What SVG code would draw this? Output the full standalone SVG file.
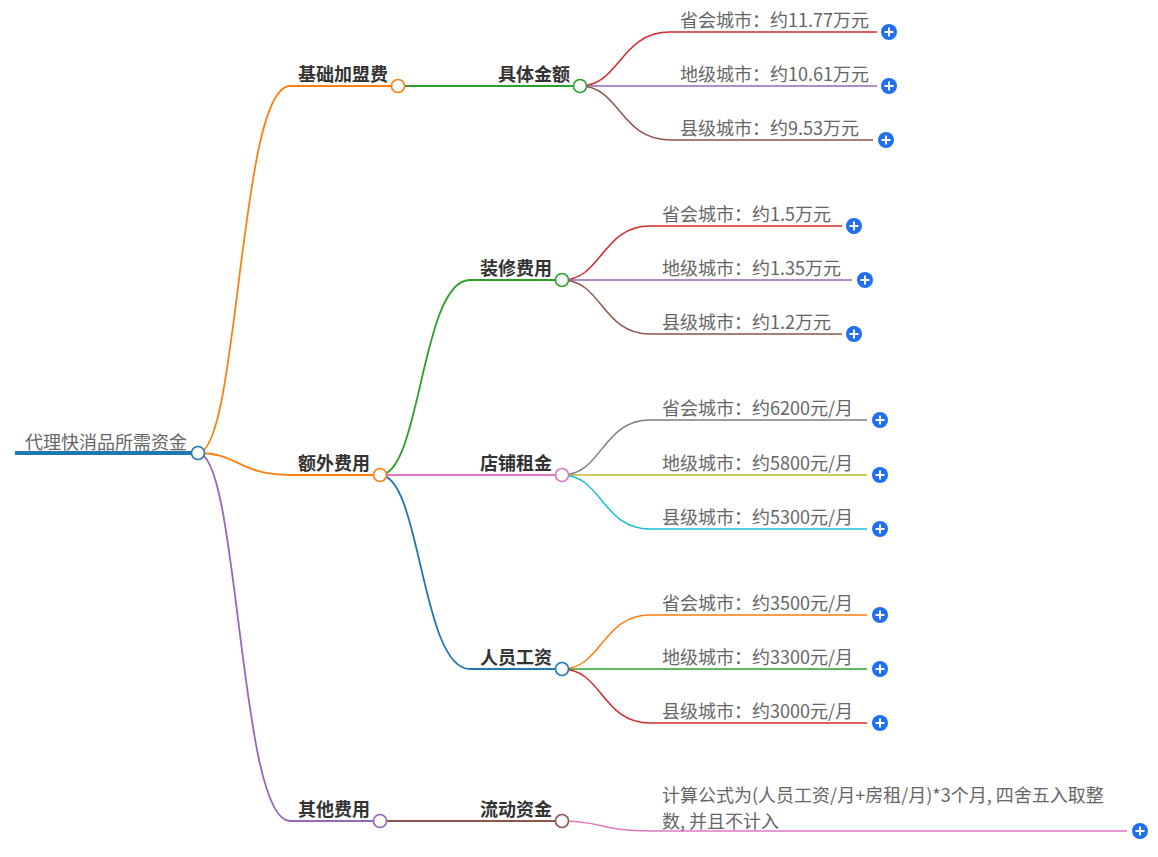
<svg xmlns="http://www.w3.org/2000/svg" width="1158" height="857" viewBox="0 0 1158 857">
<defs>
<style>
.e{fill:none;stroke-width:1.8;stroke-linecap:round}
.l{fill:none;stroke-width:1.5}
.t1{font-family:"Noto Sans CJK SC","Liberation Sans",sans-serif;font-size:18px;font-weight:bold;fill:#333;text-anchor:end}
.t3{font-family:"Noto Sans CJK SC","Liberation Sans",sans-serif;font-size:18px;fill:#666}
.root{font-family:"Noto Sans CJK SC","Liberation Sans",sans-serif;font-size:18px;fill:#666;text-anchor:end}
.c{fill:#fff;stroke-width:1.6}
.pb{fill:#1f6ff0}
.pl{stroke:#fff;stroke-width:2;fill:none}
</style>
<g id="plus"><circle class="pb" r="8"/><path class="pl" d="M-4.5 0H4.5M0 -4.5V4.5"/></g>
</defs>
<rect width="1158" height="857" fill="#fff"/>
<g id="connectors">
<path d="M15 453H198" stroke="#1f77b4" stroke-width="4" fill="none"/>
<path class="e" stroke="#ff7f0e" d="M198 453C239 453 239 86 290 86L398 86"/>
<path class="e" stroke="#ff7f0e" d="M198 453C239 453 239 475 290 475L380 475"/>
<path class="e" stroke="#9467bd" d="M198 453C239 453 239 821 290 821L380 821"/>
<path class="e" stroke="#2ca02c" d="M398 86L580 86"/>
<path class="e" stroke="#2ca02c" d="M380 475C421 475 421 280 470 280L562 280"/>
<path class="e" stroke="#e377c2" d="M380 475L562 475"/>
<path class="e" stroke="#1f77b4" d="M380 475C421 475 421 669 470 669L562 669"/>
<path class="e" stroke="#8c564b" d="M380 821L562 821"/>
<path class="l" stroke="#d62728" d="M580 86C620 86 620 32 670 32L877 32"/>
<path class="l" stroke="#9467bd" d="M580 86L877 86"/>
<path class="l" stroke="#8c564b" d="M580 86C620 86 620 140 670 140L873 140"/>
<path class="l" stroke="#d62728" d="M562 280C602 280 602 226 650 226L842 226"/>
<path class="l" stroke="#9467bd" d="M562 280L852 280"/>
<path class="l" stroke="#8c564b" d="M562 280C602 280 602 334 650 334L842 334"/>
<path class="l" stroke="#7f7f7f" d="M562 475C602 475 602 420 650 420L867 420"/>
<path class="l" stroke="#bcbd22" d="M562 475L867 475"/>
<path class="l" stroke="#17becf" d="M562 475C602 475 602 529 650 529L867 529"/>
<path class="l" stroke="#ff7f0e" d="M562 669C602 669 602 615 650 615L867 615"/>
<path class="l" stroke="#2ca02c" d="M562 669L867 669"/>
<path class="l" stroke="#d62728" d="M562 669C602 669 602 723 650 723L867 723"/>
<path class="l" stroke="#e377c2" d="M562 821C602 821 602 831 650 831L1127 831"/>
</g>
<g id="root"><circle class="c" stroke="#1f77b4" cx="198" cy="453" r="6.5"/><text class="root" x="187" y="449">代理快消品所需资金</text></g>
<g id="n1"><circle class="c" stroke="#ff7f0e" cx="398" cy="86" r="6.5"/><text class="t1" x="388" y="81">基础加盟费</text></g>
<g id="n2"><circle class="c" stroke="#ff7f0e" cx="380" cy="475" r="6.5"/><text class="t1" x="370" y="470">额外费用</text></g>
<g id="n3"><circle class="c" stroke="#9467bd" cx="380" cy="821" r="6.5"/><text class="t1" x="370" y="816">其他费用</text></g>
<g id="n11"><circle class="c" stroke="#2ca02c" cx="580" cy="86" r="6.5"/><text class="t1" x="570" y="81">具体金额</text></g>
<g id="n21"><circle class="c" stroke="#2ca02c" cx="562" cy="280" r="6.5"/><text class="t1" x="552" y="275">装修费用</text></g>
<g id="n22"><circle class="c" stroke="#e377c2" cx="562" cy="475" r="6.5"/><text class="t1" x="552" y="470">店铺租金</text></g>
<g id="n23"><circle class="c" stroke="#1f77b4" cx="562" cy="669" r="6.5"/><text class="t1" x="552" y="664">人员工资</text></g>
<g id="n31"><circle class="c" stroke="#8c564b" cx="562" cy="821" r="6.5"/><text class="t1" x="552" y="816">流动资金</text></g>
<g id="l111"><text class="t3" x="680" y="27">省会城市：约11.77万元</text><use href="#plus" x="889" y="32"/></g>
<g id="l112"><text class="t3" x="680" y="81">地级城市：约10.61万元</text><use href="#plus" x="889" y="86"/></g>
<g id="l113"><text class="t3" x="680" y="135">县级城市：约9.53万元</text><use href="#plus" x="886" y="140"/></g>
<g id="l211"><text class="t3" x="662" y="221">省会城市：约1.5万元</text><use href="#plus" x="854" y="226"/></g>
<g id="l212"><text class="t3" x="662" y="275">地级城市：约1.35万元</text><use href="#plus" x="865" y="280"/></g>
<g id="l213"><text class="t3" x="662" y="329">县级城市：约1.2万元</text><use href="#plus" x="854" y="334"/></g>
<g id="l221"><text class="t3" x="662" y="415">省会城市：约6200元/月</text><use href="#plus" x="880" y="420"/></g>
<g id="l222"><text class="t3" x="662" y="470">地级城市：约5800元/月</text><use href="#plus" x="880" y="475"/></g>
<g id="l223"><text class="t3" x="662" y="524">县级城市：约5300元/月</text><use href="#plus" x="880" y="529"/></g>
<g id="l231"><text class="t3" x="662" y="610">省会城市：约3500元/月</text><use href="#plus" x="880" y="615"/></g>
<g id="l232"><text class="t3" x="662" y="664">地级城市：约3300元/月</text><use href="#plus" x="880" y="669"/></g>
<g id="l233"><text class="t3" x="662" y="718">县级城市：约3000元/月</text><use href="#plus" x="880" y="723"/></g>
<g id="l311"><text class="t3" x="662" y="802">计算公式为(人员工资/月+房租/月)*3个月, 四舍五入取整<tspan x="662" dy="26">数, 并且不计入</tspan></text><use href="#plus" x="1140" y="831"/></g>
</svg>
